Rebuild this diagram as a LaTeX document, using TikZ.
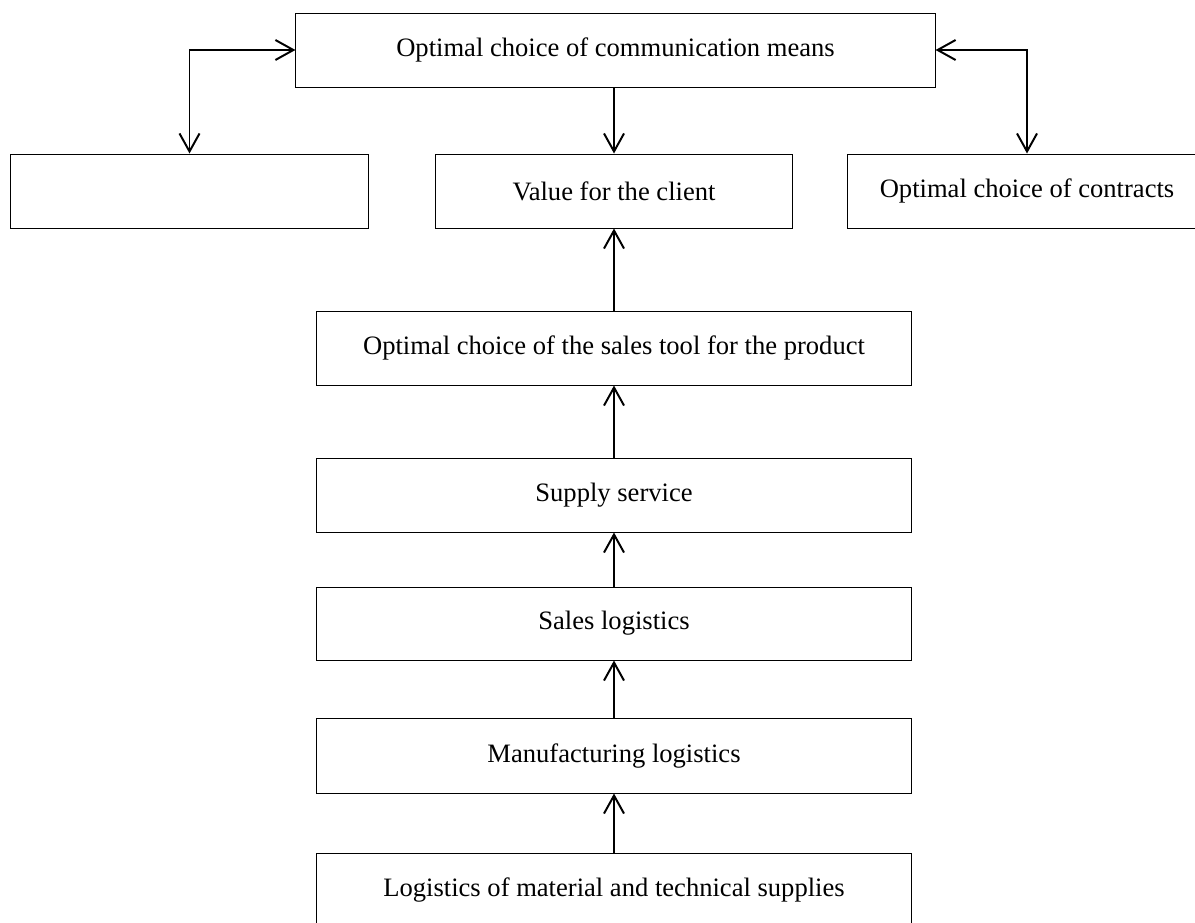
\documentclass[tikz,border=0pt]{standalone}
\usepackage{fontspec}
\setmainfont{Liberation Serif}
\usetikzlibrary{arrows.meta}
\tikzset{
  box/.style={draw, rectangle, inner sep=0pt, line width=.7pt, minimum height=1.85cm, font=\fontsize{18.9}{22}\selectfont},
  barb/.tip={Straight Barb[length=0.45cm,width=0.5cm]},
  link/.style={line width=1.4pt, -barb},
  dlink/.style={line width=1.4pt, barb-barb}
}

\begin{document}
\begin{tikzpicture}[x=0.025cm, y=-0.025cm]
\clip (0,0) rectangle (1195,922); %%
\begin{scope}[every node/.append style={box}]
\node[minimum width=15.975cm] (comm) at (615.5,50) {Optimal choice of communication means}; %%
\node[minimum width=8.925cm] (blank) at (189.5,191) {}; %%
\node[minimum width=8.9cm] (value) at (614,191) {Value for the client}; %%
\node[minimum width=8.95cm] (contr) at (1027,191) {Optimal choice of contracts}; %%
\node[minimum width=14.85cm] (tool) at (614,348) {Optimal choice of the sales tool for the product}; %%
\node[minimum width=14.85cm] (serv) at (614,495) {Supply service}; %%
\node[minimum width=14.85cm, minimum height=1.825cm] (slog) at (614,623.5) {Sales logistics}; %%
\node[minimum width=14.85cm, minimum height=1.875cm] (mlog) at (614,755.5) {Manufacturing logistics}; %%
\node[minimum width=14.85cm] (mts) at (614,890) {Logistics of material and technical supplies};
\end{scope}
% top level
\draw[dlink] (comm.west) -| (blank.north); %%
\draw[dlink] (comm.east) -| (contr.north); %%
\draw[link] (comm.south -| value.north) -- (value.north); %%
% the chain upwards
\draw[link] (tool) -- (value); %%
\draw[link] (serv) -- (tool); %%
\draw[link] (slog) -- (serv); %%
\draw[link] (mlog) -- (slog); %%
\draw[link] (mts) -- (mlog); %%
\end{tikzpicture}
\end{document}
